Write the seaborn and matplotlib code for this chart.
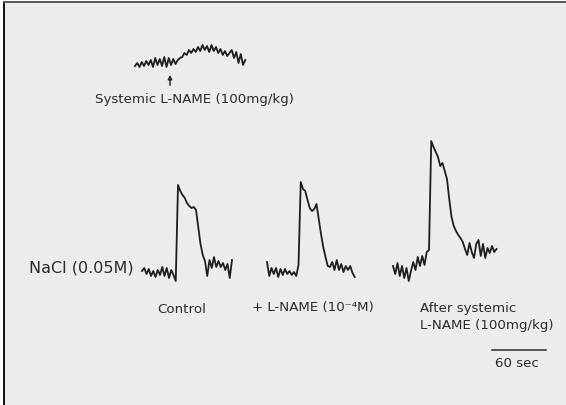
import numpy as np
import pandas as pd
import matplotlib
matplotlib.use("Agg")
import matplotlib.pyplot as plt
import seaborn as sns

# ---------------- data ----------------
SAMPLE_DT = 2.5          # seconds between samples
PX_PER_SEC = 0.9         # 60 s scale bar = 54 px

# amplitudes (arbitrary units, up = positive) relative to each trace baseline
systemic_trace = [0, 3, -1, 4, 0, 5, 1, 6, -1, 8, 1, 7, 0, 9, -1, 8, 1, 7, 2, 6,
                  8, 9, 13, 11, 16, 13, 17, 14, 19, 15, 21, 16, 20, 14, 21, 15, 19, 13, 17, 11,
                  15, 10, 13, 16, 8, 14, 3, 12, 1, 6]
control_trace = [2, 5, -1, 4, -3, 2, -4, 3, -2, 6, -3, 5, -5, 3, -2, -8, 88, 82, 78, 75,
                 70, 67, 65, 66, 63, 46, 29, 18, 12, -3, 13, 5, 16, 6, 12, 6, 10, 3, 9, -5, 13]
lname_local_trace = [10, -4, 4, -2, 4, -5, 3, -3, 3, -2, 1, -3, 0, -4, 7, 90, 83, 81, 72, 64,
                     61, 63, 68, 53, 38, 25, 15, 6, 5, 10, 2, 12, 2, 8, 0, 6, 2, 6, -1, -5]
lname_systemic_trace = [3, -5, 6, -7, 3, -9, 1, -12, -2, 7, -1, 12, 3, 13, 4, 17, 19, 128, 122, 117,
                        112, 103, 106, 98, 90, 70, 52, 43, 38, 34, 31, 27, 20, 14, 26, 17, 11, 25, 29, 13,
                        25, 11, 21, 16, 23, 17, 20]

trace_names = ["systemic", "control", "lname_local", "lname_systemic"]
trace_values = [systemic_trace, control_trace, lname_local_trace, lname_systemic_trace]

labels_systemic = "Systemic L-NAME (100mg/kg)"
label_stimulus = "NaCl (0.05M)"
label_control = "Control"
label_local = "+ L-NAME (10\u207b\u2074M)"
label_after = "After systemic\nL-NAME (100mg/kg)"
SCALE_BAR_SEC = 60
label_scale = "60 sec"

# ---------------- layout (pixel positions of the recreated sheet) ----------------
W, H = 566, 406
trace_start_px = {"systemic": 135, "control": 142, "lname_local": 267, "lname_systemic": 393}
trace_base_px = {"systemic": 67, "control": 274, "lname_local": 273, "lname_systemic": 270}


def to_data(xp, yp):
    return xp / PX_PER_SEC, H - yp


rows = []
for name, vals in zip(trace_names, trace_values):
    x0, y0 = to_data(trace_start_px[name], trace_base_px[name])
    t = x0 + SAMPLE_DT * np.arange(len(vals))
    for ti, v in zip(t, vals):
        rows.append({"time": ti, "signal": y0 + v, "trace": name})
df = pd.DataFrame(rows)

fig = plt.figure(figsize=(W / 100, H / 100), dpi=100, facecolor="white")
ax = fig.add_axes([4 / W, 0, (W - 4) / W, (H - 3) / H])
ax.set_facecolor("#ececec")
ax.set_xlim(4 / PX_PER_SEC, W / PX_PER_SEC)
ax.set_ylim(0, H - 3)

ink = "#1e1e1e"
sns.lineplot(data=df, x="time", y="signal", units="trace", estimator=None,
             sort=False, color=ink, linewidth=1.3, ax=ax, legend=False)

for s in ["right", "bottom"]:
    ax.spines[s].set_visible(False)
ax.spines["left"].set_color("#111111")
ax.spines["left"].set_linewidth(1.4)
ax.spines["top"].set_color("#555555")
ax.spines["top"].set_linewidth(1.4)
ax.set_xticks([])
ax.set_yticks([])
ax.set_xlabel("")
ax.set_ylabel("")

txt = "#2b2b2b"
# arrow marking systemic injection
ax.annotate("", xy=to_data(170, 73), xytext=to_data(170, 89),
            arrowprops=dict(arrowstyle="-|>", color=txt, lw=1.1, mutation_scale=6))

ax.text(*to_data(95, 100), labels_systemic, fontsize=9.6, color=txt, ha="left", va="center")
ax.text(*to_data(29, 268), label_stimulus, fontsize=11.5, color=txt, ha="left", va="center")
ax.text(*to_data(157, 310), label_control, fontsize=9.6, color=txt, ha="left", va="center")
ax.text(*to_data(252, 308), label_local, fontsize=9.6, color=txt, ha="left", va="center")
ax.text(*to_data(420, 317), label_after, fontsize=9.6, color=txt, ha="left", va="center",
        linespacing=1.45)

# 60 s scale bar
sx, sy = to_data(492, 351)
ax.plot([sx, sx + SCALE_BAR_SEC], [sy, sy], color=txt, lw=1.1)
ax.text(*to_data(495, 364), label_scale, fontsize=9.6, color=txt, ha="left", va="center")

fig.savefig("out.png", dpi=100, facecolor="white")
